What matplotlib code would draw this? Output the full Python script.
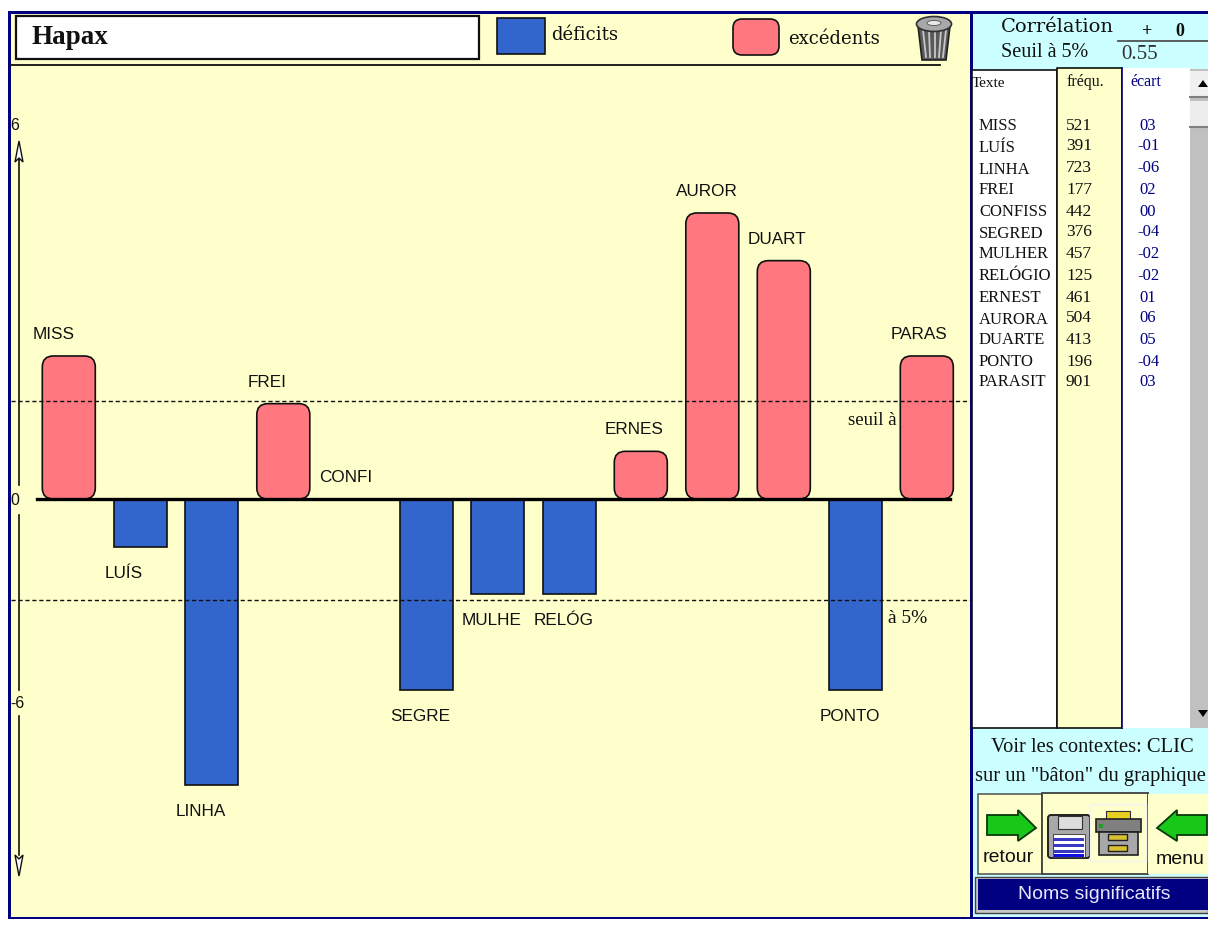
import matplotlib
matplotlib.use("Agg")
import matplotlib.pyplot as plt
from matplotlib.patches import Rectangle, FancyBboxPatch, Polygon, Ellipse

names_full = ["MISS", "LUÍS", "LINHA", "FREI", "CONFISS", "SEGRED", "MULHER", "RELÓGIO", "ERNEST", "AURORA", "DUARTE", "PONTO", "PARASIT"]
bar_labels = ["MISS", "LUÍS", "LINHA", "FREI", "CONFI", "SEGRE", "MULHE", "RELÓG", "ERNES", "AUROR", "DUART", "PONTO", "PARAS"]
frequ = [521, 391, 723, 177, 442, 376, 457, 125, 461, 504, 413, 196, 901]
ecart = [3, -1, -6, 2, 0, -4, -2, -2, 1, 6, 5, -4, 3]
seuil_haut = 2.06
seuil_bas = -2.12

CREAM = "#FFFFCC"; BLUE = "#3366CC"; RED = "#FF7880"; CYAN = "#CCFFFF"; NAVY = "#000080"; BLK = "#101010"
SERIF = "Liberation Serif"; SANS = "Liberation Sans"; WIDE = "DejaVu Serif"

W, H = 1208, 931
fig = plt.figure(figsize=(W / 100, H / 100), dpi=100, facecolor="white")

ui = fig.add_axes([0, 0, 1, 1], zorder=1)
ui.set_xlim(0, W); ui.set_ylim(H, 0); ui.axis("off")

def R(x0, y0, x1, y1, fc, ec="none", lw=0, z=1, a=ui):
    a.add_patch(Rectangle((x0, y0), x1 - x0, y1 - y0, fc=fc, ec=ec, lw=lw, zorder=z))

def T(x, y, s, size, fam=SERIF, color=BLK, ha="left", weight="normal", z=6):
    ui.text(x, y + 1.5, s, fontsize=size, family=fam, color=color, ha=ha, va="center", weight=weight, zorder=z)

# Window backgrounds
R(8, 11, 1208, 919, NAVY)
R(11, 14, 970, 917, CREAM)
R(973, 14, 1208, 917, CYAN)

# Title box
R(16, 16, 479, 59, "white", BLK, 1.6, 2)
T(31, 36, "Hapax", 19.5, weight="bold")
ui.plot([11, 940], [64.5, 64.5], color=BLK, lw=1.3, zorder=2)

# Legend
R(497, 18, 545, 54, BLUE, BLK, 1.2, 2)
T(551, 33, "déficits", 13, fam=WIDE)
ui.add_patch(FancyBboxPatch((733, 19), 46, 36, boxstyle="round,pad=0,rounding_size=9", fc=RED, ec=BLK, lw=1.2, zorder=2))
T(788, 37, "excédents", 13, fam=WIDE)

# Trash can
ui.add_patch(Polygon([[918, 26], [950, 26], [946, 60], [922, 60]], fc="#5A5A5A", ec="#202020", lw=1.2, zorder=3))
for xa, xb in [(923, 926), (929, 930), (935, 935), (941, 939), (946, 943)]:
    ui.plot([xa, xb], [30, 57], color="#C8C8C8", lw=1.3, zorder=4)
ui.add_patch(Ellipse((934, 24), 35, 15, fc="#A8A8A8", ec="#303030", lw=1.2, zorder=5))
ui.add_patch(Ellipse((934, 23), 14, 5, fc="#E8E8E8", ec="#505050", lw=.6, zorder=6))

# Value axis
ui.plot([19, 19], [158, 485], color=BLK, lw=1.2, zorder=2)
ui.plot([19, 19], [515, 690], color=BLK, lw=1.2, zorder=2)
ui.plot([19, 19], [716, 855], color=BLK, lw=1.2, zorder=2)
ui.add_patch(Polygon([[19, 141], [23, 162], [19, 158], [15, 162]], fc="white", ec=BLK, lw=1, zorder=3))
ui.add_patch(Polygon([[19, 876], [23, 855], [19, 859], [15, 855]], fc="white", ec=BLK, lw=1, zorder=3))
T(10, 124, "6", 11.5, fam=SANS)
T(10, 499, "0", 11.5, fam=SANS)
T(10, 702, "-6", 11.5, fam=SANS)

# Side panel header
T(1001, 25, "Corrélation", 14, fam=WIDE)
T(1001, 51, "Seuil à 5%", 14.5)
T(1147, 30, "+", 13, ha="center", weight="bold")
T(1180, 30, "0", 13, ha="center", weight="bold")
ui.plot([1118, 1208], [41, 41], color="#505050", lw=1.3, zorder=3)
T(1121, 53, "0.55", 15, color="#303030")

# Table
R(972, 70, 1057, 728, "white", BLK, 1.2, 2)
R(1057, 68, 1122, 728, CREAM, BLK, 1.2, 2)
R(1122, 68, 1190, 728, "white", "none", 0, 2)
ui.plot([1122, 1122], [68, 728], color=NAVY, lw=1.2, zorder=3)
R(1190, 69, 1208, 728, "#C0C0C0", "none", 0, 2)
R(1190, 71, 1208, 97, "#F0F0F0", "none", 0, 3)
ui.plot([1190, 1208], [97, 97], color="#808080", lw=1.5, zorder=4)
R(1190, 101, 1208, 127, "#EDEDED", "none", 0, 3)
ui.plot([1190, 1208], [127, 127], color="#808080", lw=1.5, zorder=4)
ui.add_patch(Polygon([[1203, 80], [1198, 87], [1208, 87]], fc="black", zorder=5))
ui.add_patch(Polygon([[1203, 717], [1198, 710], [1208, 710]], fc="black", zorder=5))
T(972, 82, "Texte", 11)
T(1067, 81, "fréqu.", 11.5)
T(1130, 81, "écart", 11.5, color=NAVY)
row_y = [125, 146, 168, 189, 211, 232, 253, 275, 297, 318, 339, 361, 381]
for y, n, f, e in zip(row_y, names_full, frequ, ecart):
    T(979, y, n, 12)
    T(1066, y - 1, str(f), 12.5)
    T(1148, y - 1, f"{e:03d}" if e < 0 else f"{e:02d}", 12, color=NAVY, ha="center")

# Side panel footer
T(1092, 746, "Voir les contextes: CLIC", 14.8, ha="center")
T(1090, 775, 'sur un "bâton" du graphique', 14.8, ha="center")
R(978, 794, 1042, 874, CREAM, "#505050", 1.1, 2)
R(1042, 793, 1148, 874, CREAM, "#404040", 1.3, 2)
R(1148, 794, 1208, 874, CREAM, "none", 0, 2)

def arrow(pts):
    ui.add_patch(Polygon(pts, fc="#18C818", ec="#083808", lw=1.3, zorder=4))
arrow([[987, 815], [1018, 815], [1018, 810], [1036, 828], [1018, 841], [1018, 835], [987, 835]])
arrow([[1207, 815], [1177, 815], [1177, 810], [1157, 828], [1177, 841], [1177, 835], [1207, 835]])
T(1008, 856, "retour", 14, fam=SANS, ha="center")
T(1180, 858, "menu", 14, fam=SANS, ha="center")
# floppy
ui.add_patch(FancyBboxPatch((1048, 815), 42, 43, boxstyle="round,pad=0,rounding_size=3", fc="#A8A8A8", ec="#202020", lw=1.4, zorder=4))
R(1058, 816, 1082, 829, "#DDDDDD", "#303030", 0.8, 5)
R(1053, 834, 1085, 857, "white", "#303030", 0.6, 5)
for yy in (838, 844, 850):
    R(1054, yy, 1084, yy + 3, "#3838C0", z=6)
R(1054, 854, 1084, 857, "#1010E0", z=6)
# printer
R(1090, 804, 1146, 861, "none", "#F4F4F4", 1, 4)
R(1106, 811, 1130, 821, "#E8D020", "#303030", 0.8, 5)
R(1096, 819, 1141, 832, "#808080", "#202020", 1.2, 5)
R(1099, 832, 1138, 855, "#A8A8A8", "#202020", 1.2, 5)
R(1108, 834, 1127, 840, "#D8C030", "#202020", 1, 6)
R(1108, 845, 1127, 851, "#D8C030", "#202020", 1, 6)
R(1099, 824, 1103, 828, "#20A020", z=6)
# status bar
R(975, 877, 1208, 913, "#C8C8C8", "#404040", 1, 2)
R(978, 879, 1208, 910, NAVY, z=3)
T(1094, 893, "Noms significatifs", 14, fam=SANS, ha="center", color="#E8E8FF")

# Chart layer: data units mapped through axis limits onto the same canvas
X0, STEP, Y0, UNIT = 68.8, 71.5, 499, 47.67
ax = fig.add_axes([0, 0, 1, 1], zorder=2)
ax.set_xlim((0 - X0) / STEP, (W - X0) / STEP)
ax.set_ylim((Y0 - H) / UNIT, Y0 / UNIT)
ax.axis("off"); ax.patch.set_alpha(0)

bw = 53 / STEP
aspect = (1 / UNIT) / (1 / STEP)
for i, (v, lab) in enumerate(zip(ecart, bar_labels)):
    left = i - bw / 2
    if v > 0:
        ax.add_patch(FancyBboxPatch((left, 0), bw, v, boxstyle=f"round,pad=0,rounding_size={11 / STEP}",
                                    mutation_aspect=aspect, fc=RED, ec=BLK, lw=1.2, zorder=3))
    elif v < 0:
        ax.bar(i, v, width=bw, color=BLUE, edgecolor=BLK, linewidth=1.2, zorder=3)
    dy = 21.5 if v >= 0 else -26.5
    ax.annotate(lab, (left, v), xytext=(-9.5 * .72, dy * .72), textcoords="offset points",
                ha="left", va="center", fontsize=12.3, family=SANS, color=BLK, zorder=6)

for s in (seuil_haut, seuil_bas):
    ax.plot([(11 - X0) / STEP, (970 - X0) / STEP], [s, s], color=BLK, lw=1, dashes=(3, 2), zorder=4)
ax.plot([(37 - X0) / STEP, (950 - X0) / STEP], [0, 0], color="black", lw=2.4, zorder=5)
ax.text((848 - X0) / STEP, (Y0 - 420.5) / UNIT, "seuil à", fontsize=13.5, family=SERIF, color=BLK, va="center", zorder=6)
ax.text((888 - X0) / STEP, (Y0 - 618.5) / UNIT, "à 5%", fontsize=14, family=SERIF, color=BLK, va="center", zorder=6)

fig.savefig("out.png", dpi=100)
